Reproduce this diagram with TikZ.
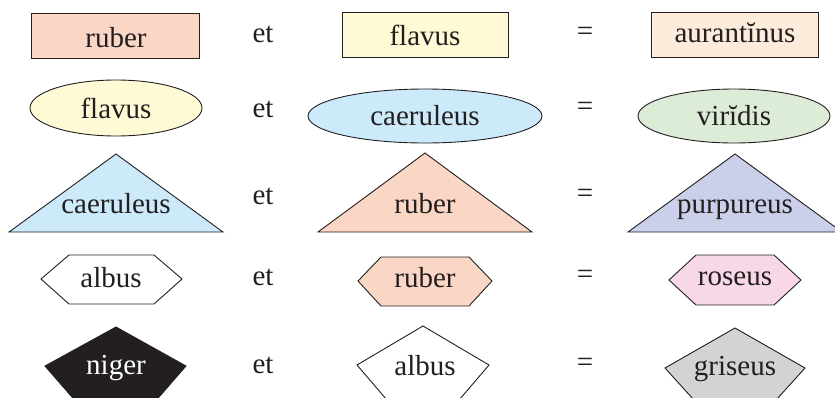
\documentclass[tikz,border=0pt]{standalone}
\usepackage{fontspec}
\setmainfont{Liberation Serif}
\usetikzlibrary{shapes.geometric,positioning}

\definecolor{ink}{RGB}{35,31,32}
\definecolor{cruber}{RGB}{250,214,197}
\definecolor{cflavus}{RGB}{255,250,214}
\definecolor{caurant}{RGB}{253,235,220}
\definecolor{ccaerul}{RGB}{204,234,250}
\definecolor{cviridis}{RGB}{221,236,214}
\definecolor{cpurpur}{RGB}{203,208,234}
\definecolor{croseus}{RGB}{248,215,230}
\definecolor{cgriseus}{RGB}{210,211,213}

\tikzset{
  word/.style={anchor=base,inner sep=0pt,text=ink,font=\fontsize{29}{34}\selectfont},
  edge/.style={draw=ink,line width=0.9pt,line join=miter},
}

\begin{document}
\begin{tikzpicture}[x=1pt,y=-1pt]
\useasboundingbox (0,0) rectangle (835,397);
\clip (0,0) rectangle (835,397);

% rectanguli
\filldraw[edge,fill=cruber] (31,13) rectangle (199,58);
\filldraw[edge,fill=cflavus] (342,12) rectangle (508,57);
\filldraw[edge,fill=caurant] (651,12) rectangle (818,57);
\node[word] (rect1) at (116,47) {ruber};
\node[word] (rect2) at (425,45) {flavus};
\node[word] (rect3) at (735,42) {aurantĭnus};

% ellipses
\filldraw[edge,fill=cflavus] (116,108) ellipse [x radius=86,y radius=28];
\filldraw[edge,fill=ccaerul] (425,116) ellipse [x radius=117,y radius=27];
\filldraw[edge,fill=cviridis] (734,116) ellipse [x radius=96,y radius=27];
\node[word] (ell1) at (116,118) {flavus};
\node[word] (ell2) at (425,125) {caeruleus};
\node[word] (ell3) at (734,125) {virĭdis};

% trianguli
\filldraw[edge,fill=ccaerul] (116,154) -- (223,232) -- (9,232) -- cycle;
\filldraw[edge,fill=cruber] (425,153) -- (532,232) -- (318,232) -- cycle;
\filldraw[edge,fill=cpurpur] (735,154) -- (842,232) -- (628,232) -- cycle;
\node[word] (tri1) at (116,213) {caeruleus};
\node[word] (tri2) at (425,213) {ruber};
\node[word] (tri3) at (735,213) {purpureus};

% hexagona
\filldraw[edge,fill=white] (41,279) -- (69,255) -- (154,255) -- (182,279) -- (154,304) -- (69,304) -- cycle;
\filldraw[edge,fill=cruber] (358,281) -- (381,257) -- (469,257) -- (492,281) -- (469,306) -- (381,306) -- cycle;
\filldraw[edge,fill=croseus] (669,280) -- (696,255) -- (774,255) -- (801,280) -- (774,305) -- (696,305) -- cycle;
\node[word] (hex1) at (111,287) {albus};
\node[word] (hex2) at (425,287) {ruber};
\node[word] (hex3) at (735,285) {roseus};

% pentagona
\filldraw[edge,fill=ink] (116,327) -- (186,366) -- (139,420) -- (92,420) -- (45,366) -- cycle;
\filldraw[edge,fill=white] (423,326) -- (489,365) -- (442,420) -- (404,420) -- (357,365) -- cycle;
\filldraw[edge,fill=cgriseus] (735,328) -- (805,368) -- (758,420) -- (712,420) -- (665,368) -- cycle;
\node[word,text=white] (pent1) at (116,374) {niger};
\node[word] (pent2) at (425,375) {albus};
\node[word] (pent3) at (735,375) {griseus};

% et, =
\foreach \y [count=\i] in {42,117,204,285,373}
  \node[word] (et\i) at (263,\y) {et} node[word] (eq\i) at (585,\y-2) {=};
\end{tikzpicture}
\end{document}
